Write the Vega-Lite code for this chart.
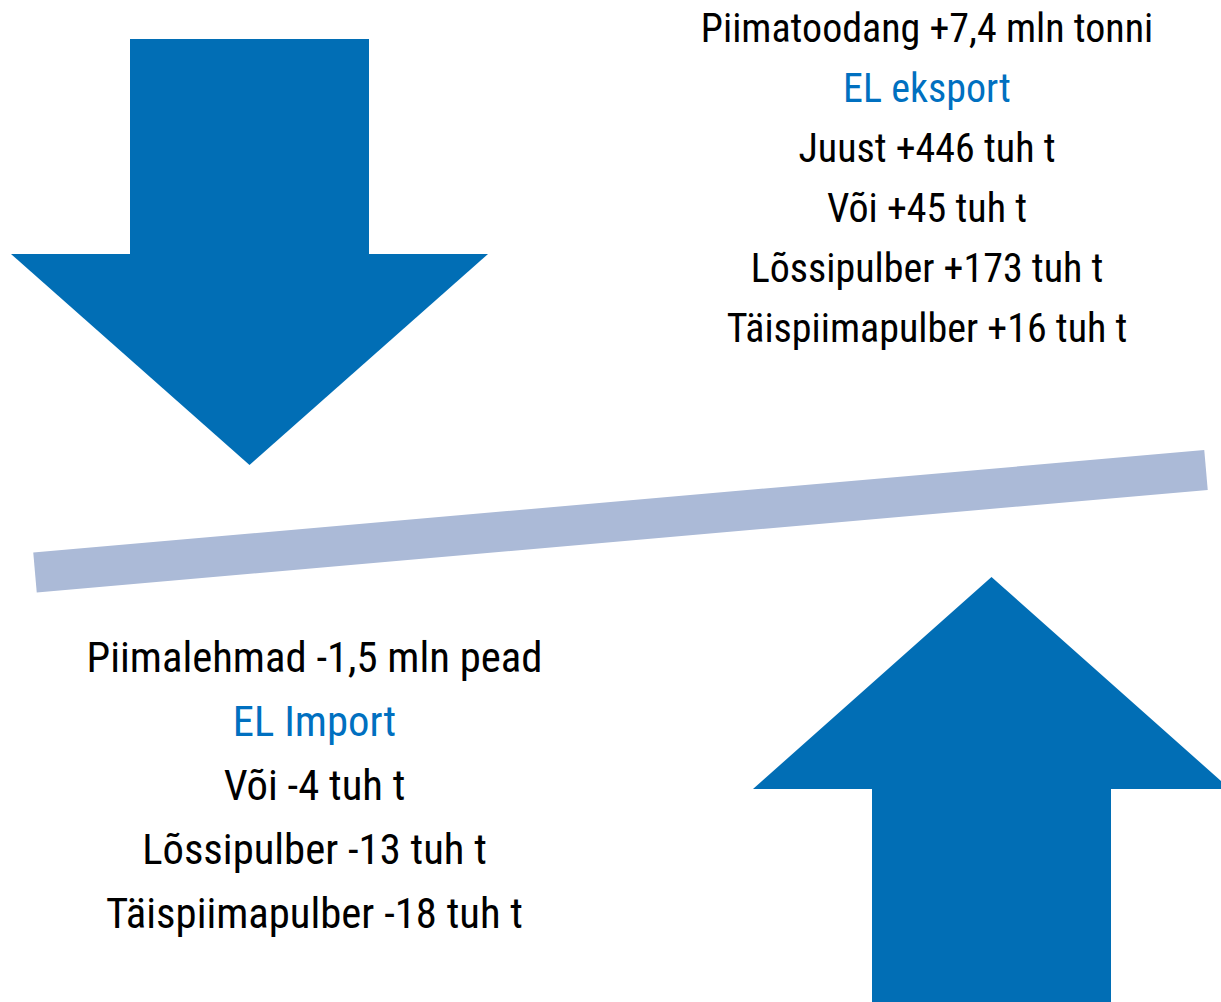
{
  "$schema": "https://vega.github.io/schema/vega-lite/v6.json",
  "width": 1221,
  "height": 1002,
  "autosize": {"type": "fit", "contains": "padding"},
  "padding": 0,
  "background": "white",
  "config": {"view": {"stroke": null}},
  "datasets": {
    "shafts": [
      {"arrow": "down", "x": 130, "x2": 369, "y": 39, "y2": 254},
      {"arrow": "up", "x": 872, "x2": 1111, "y": 789, "y2": 1002}
    ],
    "downHead": [
      {"x": 11, "y": 254, "y2": 254},
      {"x": 249.5, "y": 254, "y2": 465},
      {"x": 488, "y": 254, "y2": 254}
    ],
    "upHead": [
      {"x": 753, "y": 789, "y2": 789},
      {"x": 991.5, "y": 577, "y2": 789},
      {"x": 1230, "y": 789, "y2": 789}
    ],
    "band": [
      {"x": 35, "y": 572.5},
      {"x": 1206, "y": 470}
    ],
    "texts": [
      {"block": "top", "x": 927, "y": 41.5, "label": "Piimatoodang +7,4 mln tonni", "role": "item"},
      {"block": "top", "x": 927, "y": 101.5, "label": "EL eksport", "role": "header"},
      {"block": "top", "x": 927, "y": 161.5, "label": "Juust +446 tuh t", "role": "item"},
      {"block": "top", "x": 927, "y": 221.5, "label": "Või +45 tuh t", "role": "item"},
      {"block": "top", "x": 927, "y": 281.5, "label": "Lõssipulber +173 tuh t", "role": "item"},
      {"block": "top", "x": 927, "y": 341.5, "label": "Täispiimapulber +16 tuh t", "role": "item"},
      {"block": "bottom", "x": 314.5, "y": 671.5, "label": "Piimalehmad -1,5 mln pead", "role": "item"},
      {"block": "bottom", "x": 314.5, "y": 735.5, "label": "EL Import", "role": "header"},
      {"block": "bottom", "x": 314.5, "y": 799.5, "label": "Või -4 tuh t", "role": "item"},
      {"block": "bottom", "x": 314.5, "y": 863.5, "label": "Lõssipulber -13 tuh t", "role": "item"},
      {"block": "bottom", "x": 314.5, "y": 927.5, "label": "Täispiimapulber -18 tuh t", "role": "item"}
    ]
  },
  "layer": [
    {
      "data": {"name": "band"},
      "mark": {"type": "line", "color": "#ABBAD7", "strokeWidth": 40, "strokeCap": "butt", "clip": true},
      "encoding": {
        "x": {"field": "x", "type": "quantitative", "scale": {"domain": [0, 1221], "nice": false, "zero": false}, "axis": null},
        "y": {"field": "y", "type": "quantitative", "scale": {"domain": [0, 1002], "nice": false, "zero": false, "reverse": true}, "axis": null}
      }
    },
    {
      "data": {"name": "shafts"},
      "mark": {"type": "rect", "color": "#016EB5", "clip": true},
      "encoding": {
        "x": {"field": "x", "type": "quantitative", "scale": {"domain": [0, 1221], "nice": false, "zero": false}, "axis": null},
        "x2": {"field": "x2"},
        "y": {"field": "y", "type": "quantitative", "scale": {"domain": [0, 1002], "nice": false, "zero": false, "reverse": true}, "axis": null},
        "y2": {"field": "y2"}
      }
    },
    {
      "data": {"name": "downHead"},
      "mark": {"type": "area", "color": "#016EB5", "clip": true, "orient": "vertical"},
      "encoding": {
        "x": {"field": "x", "type": "quantitative", "scale": {"domain": [0, 1221], "nice": false, "zero": false}, "axis": null},
        "y": {"field": "y", "type": "quantitative", "scale": {"domain": [0, 1002], "nice": false, "zero": false, "reverse": true}, "axis": null},
        "y2": {"field": "y2"}
      }
    },
    {
      "data": {"name": "upHead"},
      "mark": {"type": "area", "color": "#016EB5", "clip": true, "orient": "vertical"},
      "encoding": {
        "x": {"field": "x", "type": "quantitative", "scale": {"domain": [0, 1221], "nice": false, "zero": false}, "axis": null},
        "y": {"field": "y", "type": "quantitative", "scale": {"domain": [0, 1002], "nice": false, "zero": false, "reverse": true}, "axis": null},
        "y2": {"field": "y2"}
      }
    },
    {
      "data": {"name": "texts"},
      "transform": [{"filter": "datum.block === 'top'"}],
      "mark": {"type": "text", "font": "Roboto Condensed", "fontSize": 40, "fontWeight": "normal", "align": "center", "baseline": "alphabetic"},
      "encoding": {
        "x": {"field": "x", "type": "quantitative", "scale": {"domain": [0, 1221], "nice": false, "zero": false}, "axis": null},
        "y": {"field": "y", "type": "quantitative", "scale": {"domain": [0, 1002], "nice": false, "zero": false, "reverse": true}, "axis": null},
        "text": {"field": "label"},
        "color": {"field": "role", "type": "nominal", "scale": {"domain": ["item", "header"], "range": ["#000000", "#0070C0"]}, "legend": null}
      }
    },
    {
      "data": {"name": "texts"},
      "transform": [{"filter": "datum.block === 'bottom'"}],
      "mark": {"type": "text", "font": "Roboto Condensed", "fontSize": 42.7, "fontWeight": "normal", "align": "center", "baseline": "alphabetic"},
      "encoding": {
        "x": {"field": "x", "type": "quantitative", "scale": {"domain": [0, 1221], "nice": false, "zero": false}, "axis": null},
        "y": {"field": "y", "type": "quantitative", "scale": {"domain": [0, 1002], "nice": false, "zero": false, "reverse": true}, "axis": null},
        "text": {"field": "label"},
        "color": {"field": "role", "type": "nominal", "scale": {"domain": ["item", "header"], "range": ["#000000", "#0070C0"]}, "legend": null}
      }
    }
  ]
}
